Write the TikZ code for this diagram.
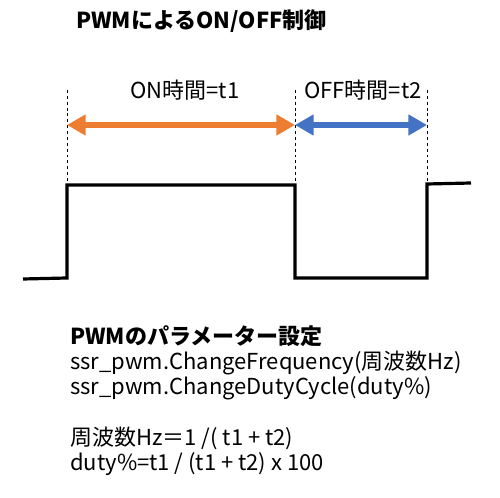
\documentclass[tikz,border=0pt]{standalone}
\usepackage{fontspec}
\setmainfont{Noto Sans CJK JP}
\usetikzlibrary{arrows.meta}
\definecolor{onorange}{HTML}{ED7D31}
\definecolor{offblue}{HTML}{4472C4}
\begin{document}
\begin{tikzpicture}[x=0.75pt,y=-0.75pt,
  txt/.style={inner sep=0pt,anchor=base west,font=\fontsize{16.5}{18}\selectfont},
  ttl/.style={inner sep=0pt,anchor=base west,font=\fontsize{16.5}{18}\selectfont\bfseries},
  lbl/.style={inner sep=0pt,anchor=base,font=\fontsize{16.5}{18}\selectfont},
  guide/.style={line width=0.6pt,dash pattern=on 2.2pt off 2.2pt},
  wave/.style={line width=2.4pt,line join=miter},
  dur/.style={line width=4.5pt,{Triangle[length=14pt,width=15pt]}-{Triangle[length=14pt,width=15pt]}}]
\useasboundingbox (0,0) rectangle (500,498);
% title
\node[ttl] (title) at (76,29) {PWMによるON/OFF制御};
% guide coordinates
\coordinate (g1t) at (67,90);  \coordinate (g1b) at (67,185);
\coordinate (g2t) at (295,90); \coordinate (g2b) at (295,185);
\coordinate (g3t) at (427,90); \coordinate (g3b) at (427,184);
\draw[guide] (g1t) -- (g1b);
\draw[guide] (g2t) -- (g2b);
\draw[guide] (g3t) -- (g3b);
% arrows
\coordinate (a1) at (67,125); \coordinate (a2) at (295,125); \coordinate (a3) at (427,125);
\draw[dur,onorange] (a1) -- (a2);
\draw[dur,offblue] (a2) -- (a3);
\node[lbl] (onlbl) at (185,99) {ON時間=t1};
\node[lbl] (offlbl) at (363,99) {OFF時間=t2};
% waveform
\coordinate (w0) at (23,279);
\coordinate (w1) at (67,278);
\coordinate (w2) at (67,185);
\coordinate (w3) at (295,185);
\coordinate (w4) at (295,278);
\coordinate (w5) at (427,278);
\coordinate (w6) at (427,184);
\coordinate (w7) at (471,183);
\draw[wave] (w0) -- (w1) -- (w2) -- (w3) -- (w4) -- (w5) -- (w6) -- (w7);
% parameter text
\node[ttl] (ptitle) at (70,345) {PWMのパラメーター設定};
\node[txt] (l1) at (70,370) {ssr\_pwm.ChangeFrequency(周波数Hz)};
\node[txt] (l2) at (70,395) {ssr\_pwm.ChangeDutyCycle(duty\%)};
\node[txt] (l3) at (70,446) {周波数Hz＝1 /( t1 + t2)};
\node[txt] (l4) at (70,471) {duty\%=t1 / (t1 + t2) x 100};
\end{tikzpicture}
\end{document}
